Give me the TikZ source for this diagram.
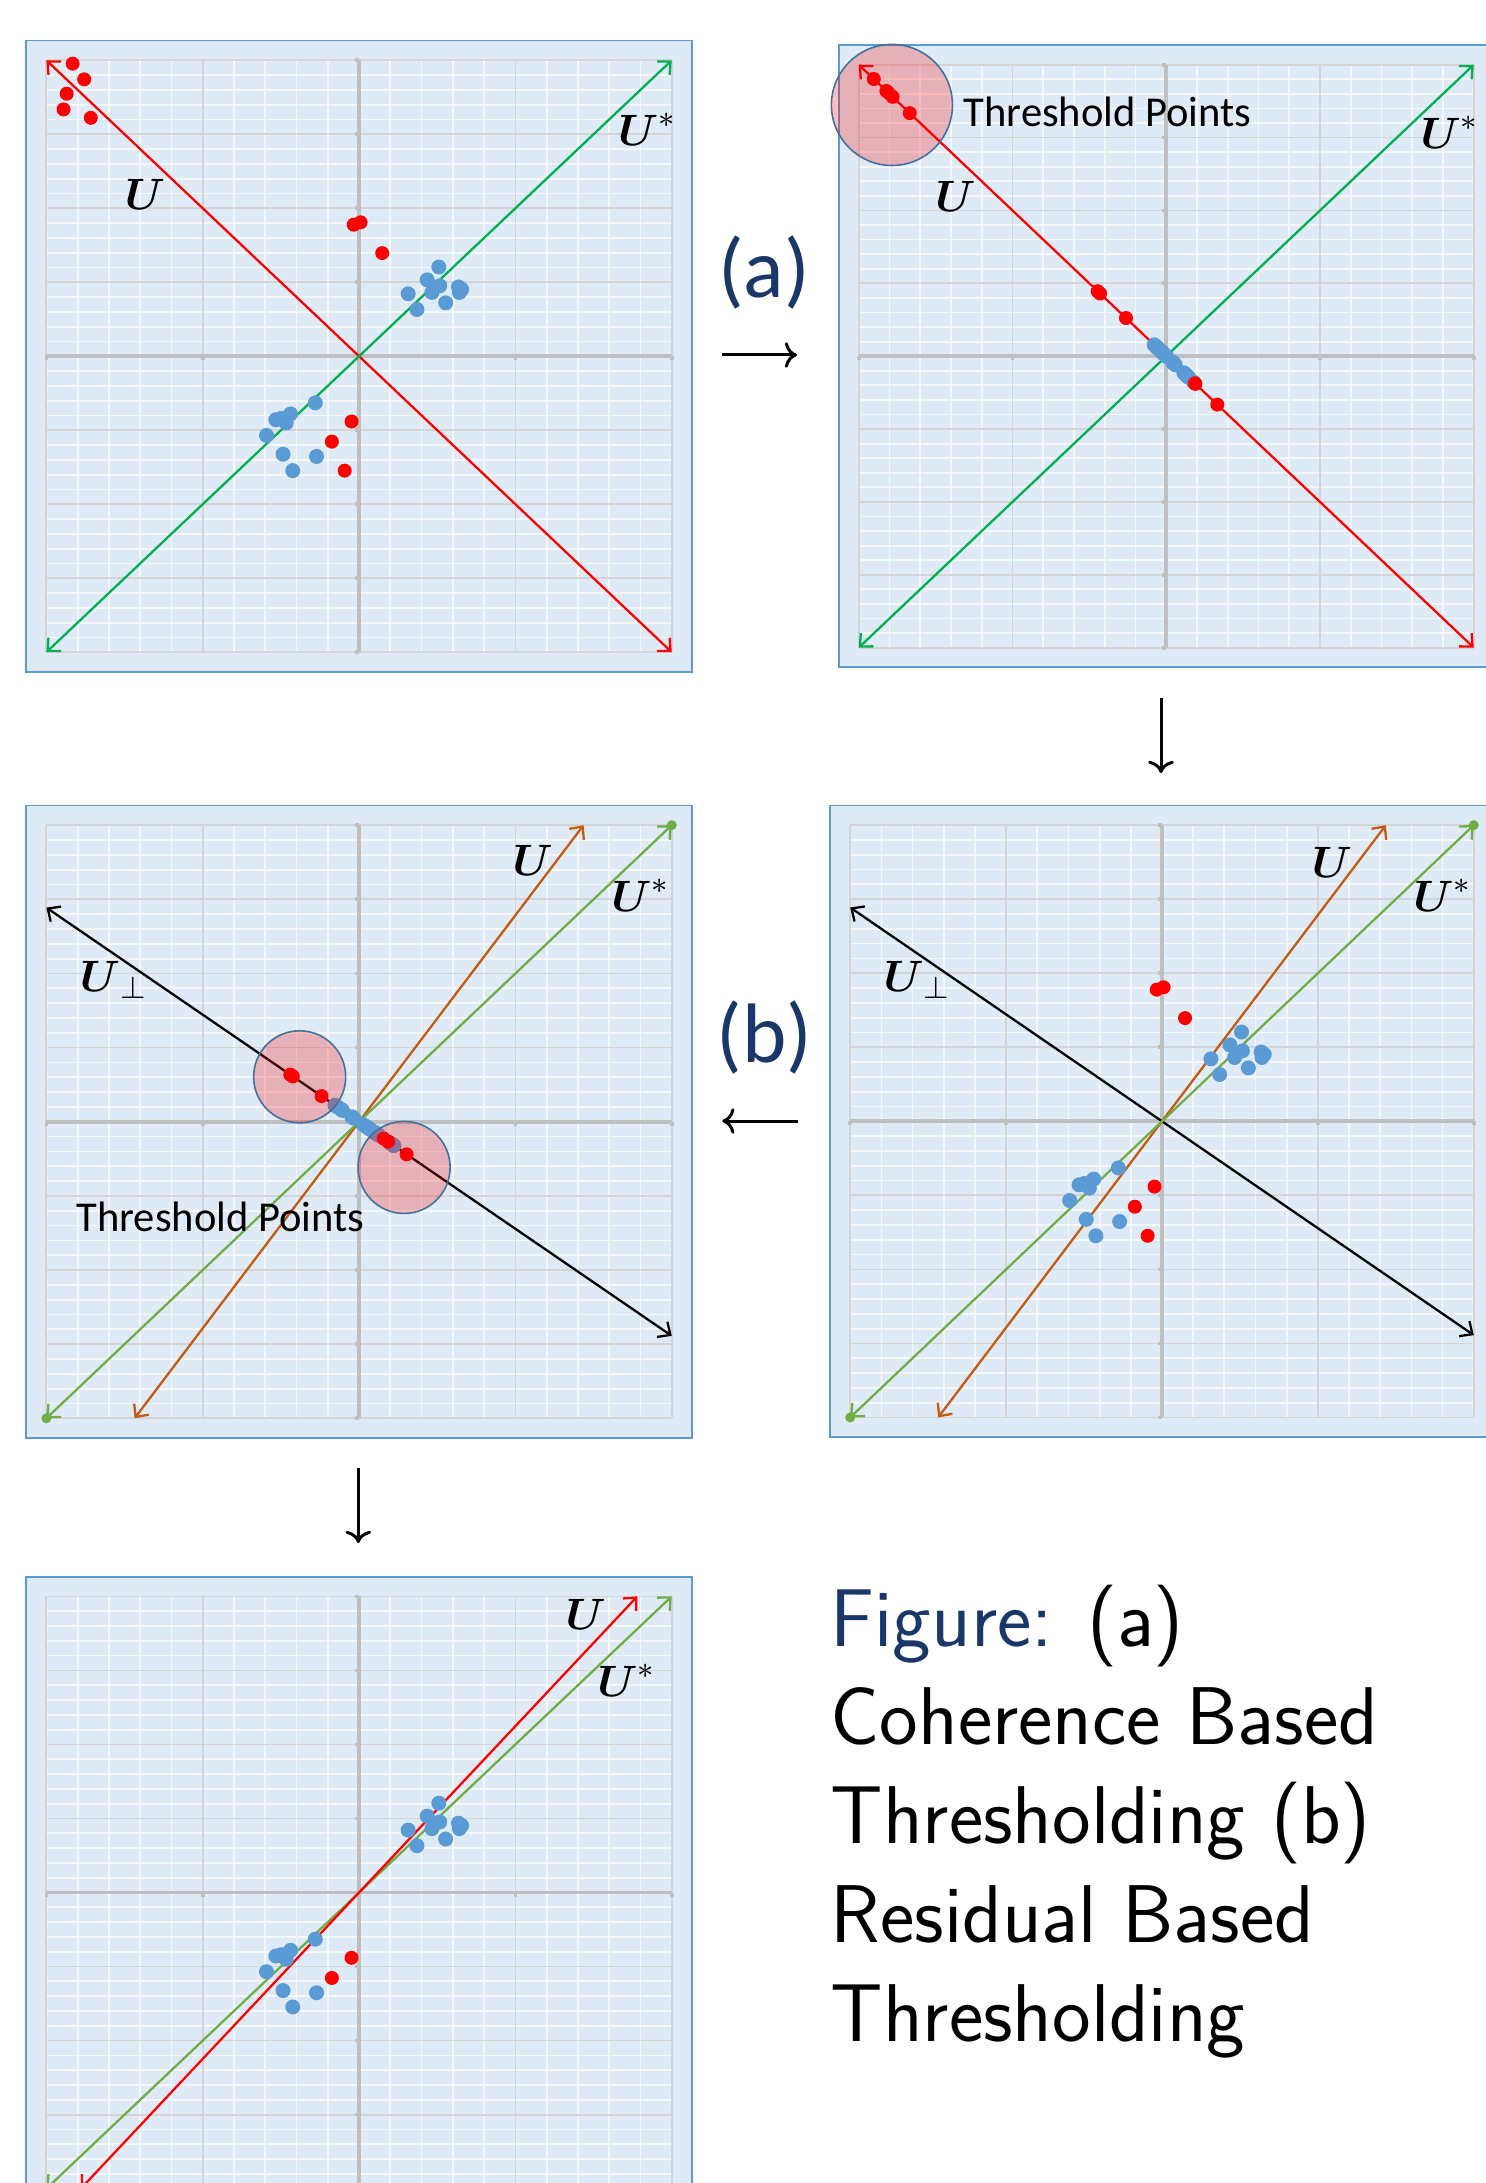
\RequirePackage{fix-cm}
\documentclass[tikz,border=0pt]{standalone}
\usepackage{fontspec}
\usepackage{amsmath}
\usepackage{tikz}
\usetikzlibrary{arrows.meta}
\newfontfamily\calibri{Carlito}
\definecolor{myred}{RGB}{255,0,0}
\definecolor{myblue}{RGB}{91,155,213}
\definecolor{mygreen}{RGB}{0,176,80}
\definecolor{myolive}{RGB}{112,173,71}
\definecolor{myorange}{RGB}{197,90,17}
\definecolor{mynavy}{RGB}{25,55,105}
\definecolor{myring}{RGB}{65,113,156}
\definecolor{hdrblue}{RGB}{222,235,247}
\definecolor{gridgray}{RGB}{212,212,212}
\definecolor{gridwhite}{RGB}{246,247,249}
\definecolor{axisgray}{RGB}{191,191,191}
\tikzset{
  plotbox/.style={fill=hdrblue, draw=myblue, line width=0.5pt},
  minorgrid/.style={draw=gridwhite, line width=0.5pt},
  majorgrid/.style={draw=gridgray, line width=0.5pt},
  axisline/.style={draw=axisgray, line width=1.05pt},
  vecline/.style={{Straight Barb[length=2.8pt,width=5.2pt]}-{Straight Barb[length=2.8pt,width=5.2pt]}, line width=0.65pt},
  reddot/.style={fill=myred},
  bluedot/.style={fill=myblue},
  threshring/.style={draw=myring, line width=0.45pt, fill=myred, fill opacity=0.25},
  veclabel/.style={font=\fontsize{12.5}{14}\selectfont, inner sep=0pt},
  tplabel/.style={font=\calibri\fontsize{12.1}{14}\selectfont, inner sep=0pt, anchor=west},
  steplabel/.style={font=\calibri\fontsize{24}{28}\selectfont, text=mynavy, inner sep=0pt},
  steparrow/.style={-{Computer Modern Rightarrow}, line width=0.85pt, color=black},
  captext/.style={font=\sffamily\fontsize{23.3}{28.1}\selectfont, align=left, inner sep=0pt}
}

% chart area shared by all five panels (x: -10..10, y: -20..20)
\newcommand{\plotframe}{%
  \path[plotbox] (-10.65,-21.33) rectangle (10.65,21.33);
  \draw[minorgrid, step=1] (-10,-20) grid (10,20);
  \draw[majorgrid, step=5] (-10,-20) grid (10,20);
  \draw[axisline] (-10,0) -- (10,0) (0,-20) -- (0,20);
  \foreach \gv in {-20,-15,...,20} \draw[axisline] (-0.13,\gv) -- (0,\gv);
  \foreach \gv in {-10,-5,5,10} \draw[axisline] (\gv,0) -- (\gv,-0.28);
}
% scatter data
\newcommand{\bluecloud}{2.55/6.03, 2.18/5.16, 2.58/4.76, 2.33/4.31, 1.57/4.22, 3.18/4.68, 3.28/4.52, 3.21/4.31, 2.77/3.61, 1.85/3.16, -1.40/-3.15, -2.19/-3.90, -2.66/-4.29, -2.49/-4.20, -2.33/-4.51, -2.96/-5.35, -2.43/-6.62, -1.36/-6.77, -2.12/-7.73}
\newcommand{\redlow}{-0.24/-4.41, -0.87/-5.77}
\newcommand{\redrest}{-0.46/-7.73, -0.17/8.89, 0.05/9.05, 0.74/6.97}
\newcommand{\redfar}{-9.16/19.77, -8.79/18.71, -9.35/17.74, -9.45/16.68, -8.58/16.11}

\begin{document}
\begin{tikzpicture}[x=0.01cm, y=-0.01cm]
  \useasboundingbox (0,0) rectangle (1486,2183);
  \clip (0,0) rectangle (1486,2183);
  \fill[white] (0,0) rectangle (1486,2183);

  % Panel 1: data with outliers
  \begin{scope}[shift={(3.5885cm,-3.5605cm)}, x=0.3125cm, y=0.1479cm]
    \plotframe
    \draw[vecline, myred] (-10,20) -- (10,-20);
    \draw[vecline, mygreen] (-10,-20) -- (10,20);
    \foreach \dx/\dy in \bluecloud \fill[bluedot] (\dx,\dy) circle[radius=0.075cm];
    \foreach \dx/\dy in \redlow \fill[reddot] (\dx,\dy) circle[radius=0.07cm];
    \foreach \dx/\dy in \redrest \fill[reddot] (\dx,\dy) circle[radius=0.07cm];
    \foreach \dx/\dy in \redfar \fill[reddot] (\dx,\dy) circle[radius=0.07cm];
    \node[veclabel] (u-one) at (-6.85,10.95) {$\boldsymbol{U}$};
    \node[veclabel] (us-one) at (9.22,15.35) {$\boldsymbol{U}^{*}$};
  \end{scope}

  % Panel 2: projections on U
  \begin{scope}[shift={(11.6555cm,-3.56cm)}, x=0.30735cm, y=0.14565cm]
    \plotframe
    \draw[vecline, myred] (-10,20) -- (10,-20);
    \draw[vecline, mygreen] (-10,-20) -- (10,20);
    \foreach \dx in {-0.09,-0.07,0.23,0.21,-0.17,0.57,0.66,0.67,0.60,0.22,0.01,-0.23,-0.39,-0.32,-0.16,-0.29,0.29,0.89,0.72}
      \fill[bluedot] ({\dx},{-2*\dx}) circle[radius=0.075cm];
    \foreach \dx in {-9.51,-9.1,-9.05,-8.9,-8.34,-2.23,-2.15,-1.31,0.95,0.93,1.66}
      \fill[reddot] ({\dx},{-2*\dx}) circle[radius=0.07cm];
    \path[threshring] (-8.92,17.24) circle[radius=0.605cm];
    \node[veclabel] (u-two) at (-6.85,10.95) {$\boldsymbol{U}$};
    \node[veclabel] (us-two) at (9.22,15.35) {$\boldsymbol{U}^{*}$};
    \node[tplabel] (tp-two) at (-6.61,16.78) {Threshold Points};
  \end{scope}

  % Panel 4: data after the first thresholding
  \begin{scope}[shift={(11.613cm,-11.2065cm)}, x=0.3116cm, y=0.148cm]
    \plotframe
    \draw[vecline, black] (-10,14.44) -- (10,-14.44);
    \draw[vecline, myorange] (-7.18,-20) -- (7.18,20);
    \draw[vecline, myolive] (-10,-20) -- (10,20);
    \fill[myolive] (-10,-20) circle[radius=0.05cm] (10,20) circle[radius=0.05cm];
    \foreach \dx/\dy in \bluecloud \fill[bluedot] (\dx,\dy) circle[radius=0.075cm];
    \foreach \dx/\dy in \redlow \fill[reddot] (\dx,\dy) circle[radius=0.07cm];
    \foreach \dx/\dy in \redrest \fill[reddot] (\dx,\dy) circle[radius=0.07cm];
    \node[veclabel] (u-four) at (5.45,17.45) {$\boldsymbol{U}$};
    \node[veclabel] (us-four) at (9.0,15.25) {$\boldsymbol{U}^{*}$};
    \node[veclabel] (up-four) at (-7.85,9.55) {$\boldsymbol{U}_{\perp}$};
  \end{scope}

  % Panel 3: projections on U perp
  \begin{scope}[shift={(3.5885cm,-11.211cm)}, x=0.3125cm, y=0.1482cm]
    \plotframe
    \draw[vecline, black] (-10,14.44) -- (10,-14.44);
    \draw[vecline, myorange] (-7.18,-20) -- (7.18,20);
    \draw[vecline, myolive] (-10,-20) -- (10,20);
    \fill[myolive] (-10,-20) circle[radius=0.05cm] (10,20) circle[radius=0.05cm];
    \foreach \dx in {0.36,0.31,0.63,0.57,0.13,1.02,1.11,1.11,0.98,0.50,-0.23,-0.57,-0.77,-0.69,-0.53,-0.75,-0.17,0.51,0.23}
      \fill[bluedot] ({\dx},{-1.444*\dx}) circle[radius=0.075cm];
    \foreach \dx in {-2.20,-2.12,-1.20,0.79,0.93,1.52}
      \fill[reddot] ({\dx},{-1.444*\dx}) circle[radius=0.07cm];
    \path[threshring] (-1.90,3.03) circle[radius=0.46cm];
    \path[threshring] (1.44,-3.08) circle[radius=0.46cm];
    \node[veclabel] (u-three) at (5.55,17.6) {$\boldsymbol{U}$};
    \node[veclabel] (us-three) at (9.0,15.25) {$\boldsymbol{U}^{*}$};
    \node[veclabel] (up-three) at (-7.85,9.55) {$\boldsymbol{U}_{\perp}$};
    \node[tplabel] (tp-three) at (-9.06,-6.39) {Threshold Points};
  \end{scope}

  % Panel 5: final estimate
  \begin{scope}[shift={(3.5885cm,-18.914cm)}, x=0.3125cm, y=0.148cm]
    \plotframe
    \draw[vecline, myolive] (-10,-20) -- (10,20);
    \draw[vecline, myred] (-8.9,-20) -- (8.9,20);
    \foreach \dx/\dy in \bluecloud \fill[bluedot] (\dx,\dy) circle[radius=0.075cm];
    \foreach \dx/\dy in \redlow \fill[reddot] (\dx,\dy) circle[radius=0.07cm];
    \node[veclabel] (u-five) at (7.25,18.8) {$\boldsymbol{U}$};
    \node[veclabel] (us-five) at (8.55,14.35) {$\boldsymbol{U}^{*}$};
  \end{scope}

  % Step arrows between panels
  \coordinate (a-from) at (722,355);
  \coordinate (a-to) at (797,355);
  \coordinate (d-from) at (1161,698);
  \coordinate (d-to) at (1161,773);
  \coordinate (b-from) at (797.7,1121);
  \coordinate (b-to) at (722.3,1121);
  \coordinate (e-from) at (358.3,1468);
  \coordinate (e-to) at (358.3,1543);
  \draw[steparrow] (a-from) -- (a-to);
  \draw[steparrow] (d-from) -- (d-to);
  \draw[steparrow] (b-from) -- (b-to);
  \draw[steparrow] (e-from) -- (e-to);
  \node[steplabel] (step-a) at (764,272.5) {(a)};
  \node[steplabel] (step-b) at (764.5,1037.5) {(b)};

  % Caption
  \node[captext, anchor=north west] (caption) at (830,1584)
    {\textcolor{mynavy}{Figure:} (a)\\Coherence Based\\Thresholding (b)\\Residual Based\\Thresholding};
\end{tikzpicture}
\end{document}
